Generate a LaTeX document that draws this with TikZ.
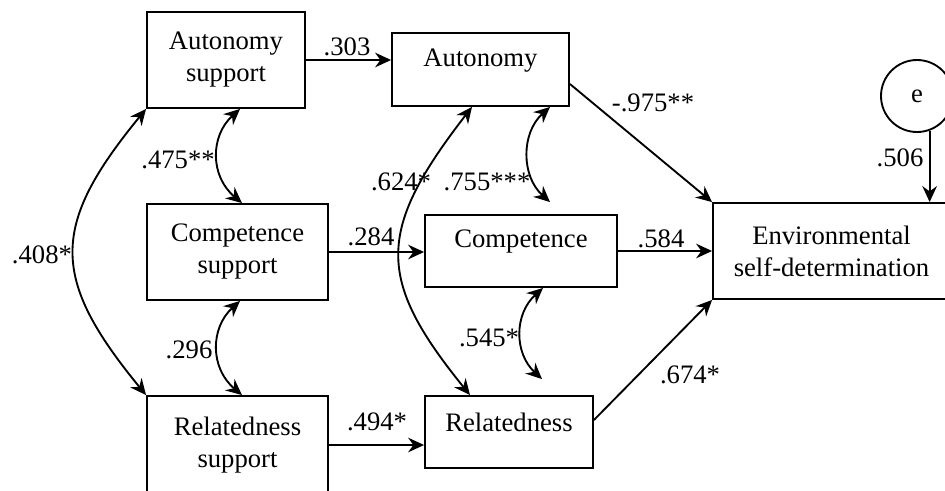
\documentclass[tikz,border=0pt]{standalone}
\usepackage{fontspec}
\setmainfont{Liberation Serif}
\usetikzlibrary{arrows.meta,calc}

\begin{document}
\begin{tikzpicture}[
  x=0.75pt, y=-0.75pt,
  font=\fontsize{20}{24}\selectfont,
  line width=1.4pt,
  box/.style 2 args={draw, rectangle, inner sep=0pt, align=center,
    minimum width=#1*0.75pt, minimum height=#2*0.75pt},
  tip/.tip={Stealth[length=12pt, width=11pt, inset=4pt]},
  direct/.style={-tip},
  covar/.style={tip-tip},
  coef/.style={inner sep=0pt}
]
\useasboundingbox (0,0) rectangle (945,490);

% exogenous (support) variables
\node[box={158}{96}] (as) at (226,60) {Autonomy\\support};
\node[box={181}{96}] (cs) at (237.5,252) {Competence\\support};
\node[box={181}{98}] (rs) at (237.5,445) {Relatedness\\support};

% mediators
\node[box={177}{73}, label={[yshift=7pt]center:Autonomy}] (au) at (480.5,69.5) {};
\node[box={192}{72}, label={[yshift=7pt]center:Competence}] (co) at (521,251) {};
\node[box={168}{72}, label={[yshift=7pt]center:Relatedness}] (re) at (509,432) {};

% outcome and its error term
\node[box={237}{96}] (env) at (831.5,251) {Environmental\\self-determination};
\node[draw, circle, inner sep=0pt, minimum size=72*0.75pt] (e) at (917,96) {e};

% free ends of two covariance arrows
\coordinate (k755) at ($(co.north)+(29,-12)$);
\coordinate (k545) at ($(re.north)+(33,-16)$);

% direct paths
\draw[direct] (as.east) -- (as.east -| au.west);
\draw[direct] (cs.east) -- (cs.east -| co.west);
\draw[direct] (rs.east) -- (rs.east -| re.west);
\draw[direct] ($(au.east)+(0,14.5)$) -- (env.north west);
\draw[direct] (co.east) -- (co.east -| env.west);
\draw[direct] ($(re.east)+(0,-12)$) -- (env.south west);
\draw[direct] (e.-70.5) -- (e.-70.5 |- env.north);

% covariances
\draw[covar] ($(as.south)+(14,0)$) .. controls +(-30,27) and +(-32,-27) .. ($(cs.north)+(4.5,0)$);
\draw[covar] ($(cs.south)+(2.5,0)$) .. controls +(-30,27) and +(-32,-27) .. ($(rs.north)+(4.5,0)$);
\draw[covar] (as.south west) .. controls +(-96,117) and +(-96,-117) .. (rs.north west);
\draw[covar] ($(au.south)+(69.5,0)$) .. controls +(-29,26) and +(-29,-26) .. (k755);
\draw[covar] ($(co.south)+(22,0)$) .. controls +(-29,26) and +(-28,-26) .. (k545);
\draw[covar] ($(au.south)+(-8.5,0)$) .. controls +(-96,124) and +(-94,-116) .. ($(re.north)+(-39,0)$);

% coefficients
\node[coef] (l303) at (347,47) {.303};
\node[coef] (l284) at (371,237) {.284};
\node[coef] (l494) at (377,422) {.494*};
\node[coef] (l975) at (653,103) {-.975**};
\node[coef] (l584) at (661,239) {.584};
\node[coef] (l674) at (690,375) {.674*};
\node[coef] (l506) at (900,158) {.506};
\node[coef] (l475) at (178,160) {.475**};
\node[coef] (l296) at (189,350) {.296};
\node[coef] (l408) at (42,255) {.408*};
\node[coef] (l755) at (487,182) {.755***};
\node[coef] (l624) at (401,182) {.624*};
\node[coef] (l545) at (489,338) {.545*};
\end{tikzpicture}
\end{document}
